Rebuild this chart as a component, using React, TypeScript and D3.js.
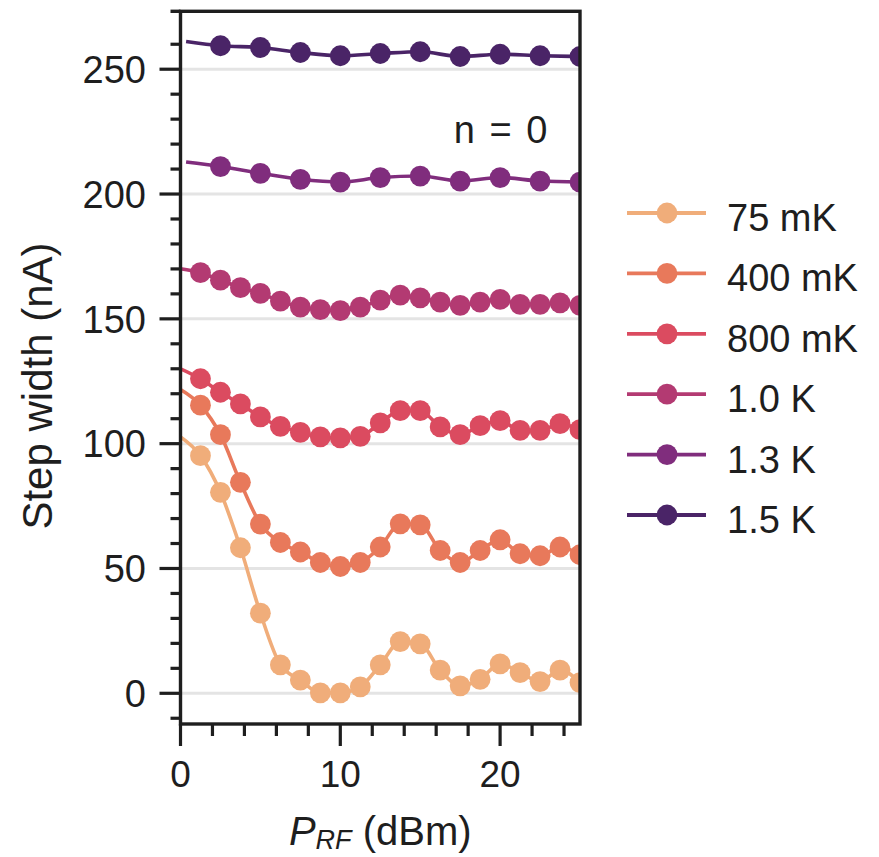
import React from "react";
import * as d3 from "d3";

const xFine = [0, 1.25, 2.5, 3.75, 5, 6.25, 7.5, 8.75, 10, 11.25, 12.5, 13.75, 15, 16.25, 17.5, 18.75, 20, 21.25, 22.5, 23.75, 25];
const xCoarse = [0.35, 2.5, 5, 7.5, 10, 12.5, 15, 17.5, 20, 22.5, 25];

const v75mK = [102.7, 95.2, 80.5, 58.3, 32.1, 11.4, 5.3, 0.2, 0.2, 2.6, 11.4, 20.7, 19.8, 9.3, 3.0, 5.6, 11.8, 8.3, 4.7, 9.3, 4.3];
const v400mK = [121.7, 115.4, 103.6, 84.5, 67.8, 60.4, 56.6, 52.4, 50.8, 52.4, 58.6, 67.9, 67.5, 57.2, 52.4, 57.2, 61.5, 55.9, 55.1, 58.6, 55.5];
const v800mK = [130, 126, 120.6, 115.9, 110.7, 106.9, 104.5, 102.7, 102.3, 102.9, 108.3, 113.2, 113.2, 106.7, 103.6, 107.2, 109.2, 105.3, 105.3, 108.0, 105.6];
const v1_0K = [170.1, 168.5, 165.5, 162.5, 160.2, 157.1, 154.7, 153.7, 153.3, 154.7, 157.5, 159.5, 158.4, 156.7, 155.4, 156.7, 157.8, 155.8, 155.8, 156.4, 155.4];
const v1_3K = [212.8, 211.0, 208.3, 205.9, 204.8, 206.6, 207.2, 205.2, 206.6, 205.2, 204.8];
const v1_5K = [261.1, 259.4, 258.7, 256.7, 255.4, 256.3, 257.0, 255.1, 256.0, 255.4, 255.1];

const seriesLabels = ["75 mK", "400 mK", "800 mK", "1.0 K", "1.3 K", "1.5 K"];
const seriesColors = ["#f0ad7a", "#e8795b", "#db4b60", "#b33a72", "#802d7d", "#4a2467"];
const seriesX = [xFine, xFine, xFine, xFine, xCoarse, xCoarse];
const seriesY = [v75mK, v400mK, v800mK, v1_0K, v1_3K, v1_5K];

const yMajorTicks = [0, 50, 100, 150, 200, 250];
const yMinorTicks = [-10, 10, 20, 30, 40, 60, 70, 80, 90, 110, 120, 130, 140, 160, 170, 180, 190, 210, 220, 230, 240, 260];
const xMajorTicks = [0, 10, 20];
const xMinorTicks = [2, 4, 6, 8, 12, 14, 16, 18, 22, 24];

const FONT = "'Liberation Sans', Arial, Helvetica, sans-serif";
const TXT = "#1e1e1e";

export default function App() {
  const left = 180.5, right = 580, top = 11.3, bottom = 724;
  const x = d3.scaleLinear().domain([0, 25]).range([left, right]);
  const y = d3.scaleLinear().domain([-12.3, 273.2]).range([bottom, top]);
  const line = d3
    .line<[number, number]>()
    .x((d) => x(d[0]))
    .y((d) => y(d[1]))
    .curve(d3.curveMonotoneX);

  const legendY0 = 213;
  const legendStep = 60.4;

  return (
    <svg width={879} height={857} style={{ position: "absolute", left: 0, top: 0, background: "#fff" }} fontFamily={FONT}>
      <defs>
        <clipPath id="plotclip">
          <rect x={left} y={top} width={right - left} height={bottom - top} />
        </clipPath>
      </defs>
      {yMajorTicks.map((t) => (
        <line key={"g" + t} x1={left} x2={right} y1={y(t)} y2={y(t)} stroke="#e4e4e4" strokeWidth={3} />
      ))}
      <g clipPath="url(#plotclip)">
        {seriesY.map((vals, si) => {
          const pts: [number, number][] = vals.map((v, i) => [seriesX[si][i], v]);
          return (
            <g key={"s" + si}>
              <path d={line(pts) || ""} fill="none" stroke={seriesColors[si]} strokeWidth={3.6} />
              {pts.slice(1).map((p, i) => (
                <circle key={i} cx={x(p[0])} cy={y(p[1])} r={10.4} fill={seriesColors[si]} />
              ))}
            </g>
          );
        })}
      </g>
      <rect x={left} y={top} width={right - left} height={bottom - top} fill="none" stroke={TXT} strokeWidth={3.4} />
      <line x1={left - 10} x2={left} y1={top} y2={top} stroke={TXT} strokeWidth={3.4} />
      {yMajorTicks.map((t) => (
        <g key={"ym" + t}>
          <line x1={left - 21} x2={left} y1={y(t)} y2={y(t)} stroke={TXT} strokeWidth={3.2} />
          <text x={146} y={y(t)} dy="0.36em" textAnchor="end" fontSize={38} fill={TXT}>
            {t}
          </text>
        </g>
      ))}
      {yMinorTicks.map((t) => (
        <line key={"yn" + t} x1={left - 10} x2={left} y1={y(t)} y2={y(t)} stroke={TXT} strokeWidth={3.2} />
      ))}
      {xMajorTicks.map((t) => (
        <g key={"xm" + t}>
          <line x1={x(t)} x2={x(t)} y1={bottom} y2={bottom + 22} stroke={TXT} strokeWidth={3.2} />
          <text x={x(t)} y={787} textAnchor="middle" fontSize={37} fill={TXT}>
            {t}
          </text>
        </g>
      ))}
      {xMinorTicks.map((t) => (
        <line key={"xn" + t} x1={x(t)} x2={x(t)} y1={bottom} y2={bottom + 12} stroke={TXT} strokeWidth={3.2} />
      ))}
      <text x={(left + right) / 2} y={845} textAnchor="middle" fontSize={40} fill={TXT}>
        <tspan fontStyle="italic">P</tspan>
        <tspan fontStyle="italic" fontSize={27} dy={4}>RF</tspan>
        <tspan dy={-4}> (dBm)</tspan>
      </text>
      <text transform="translate(52,386) rotate(-90)" textAnchor="middle" fontSize={42} fill={TXT}>
        Step width (nA)
      </text>
      <text x={500.5} y={143} textAnchor="middle" fontSize={38} wordSpacing={4} fill={TXT} style={{ whiteSpace: "pre" }}>
        n = 0
      </text>
      {seriesLabels.map((lab, i) => {
        const ly = legendY0 + i * legendStep;
        return (
          <g key={"l" + i}>
            <line x1={627} x2={706} y1={ly} y2={ly} stroke={seriesColors[i]} strokeWidth={3.8} />
            <circle cx={667} cy={ly} r={10.4} fill={seriesColors[i]} />
            <text x={727} y={ly + 18} fontSize={38} fill={TXT}>
              {lab}
            </text>
          </g>
        );
      })}
    </svg>
  );
}
